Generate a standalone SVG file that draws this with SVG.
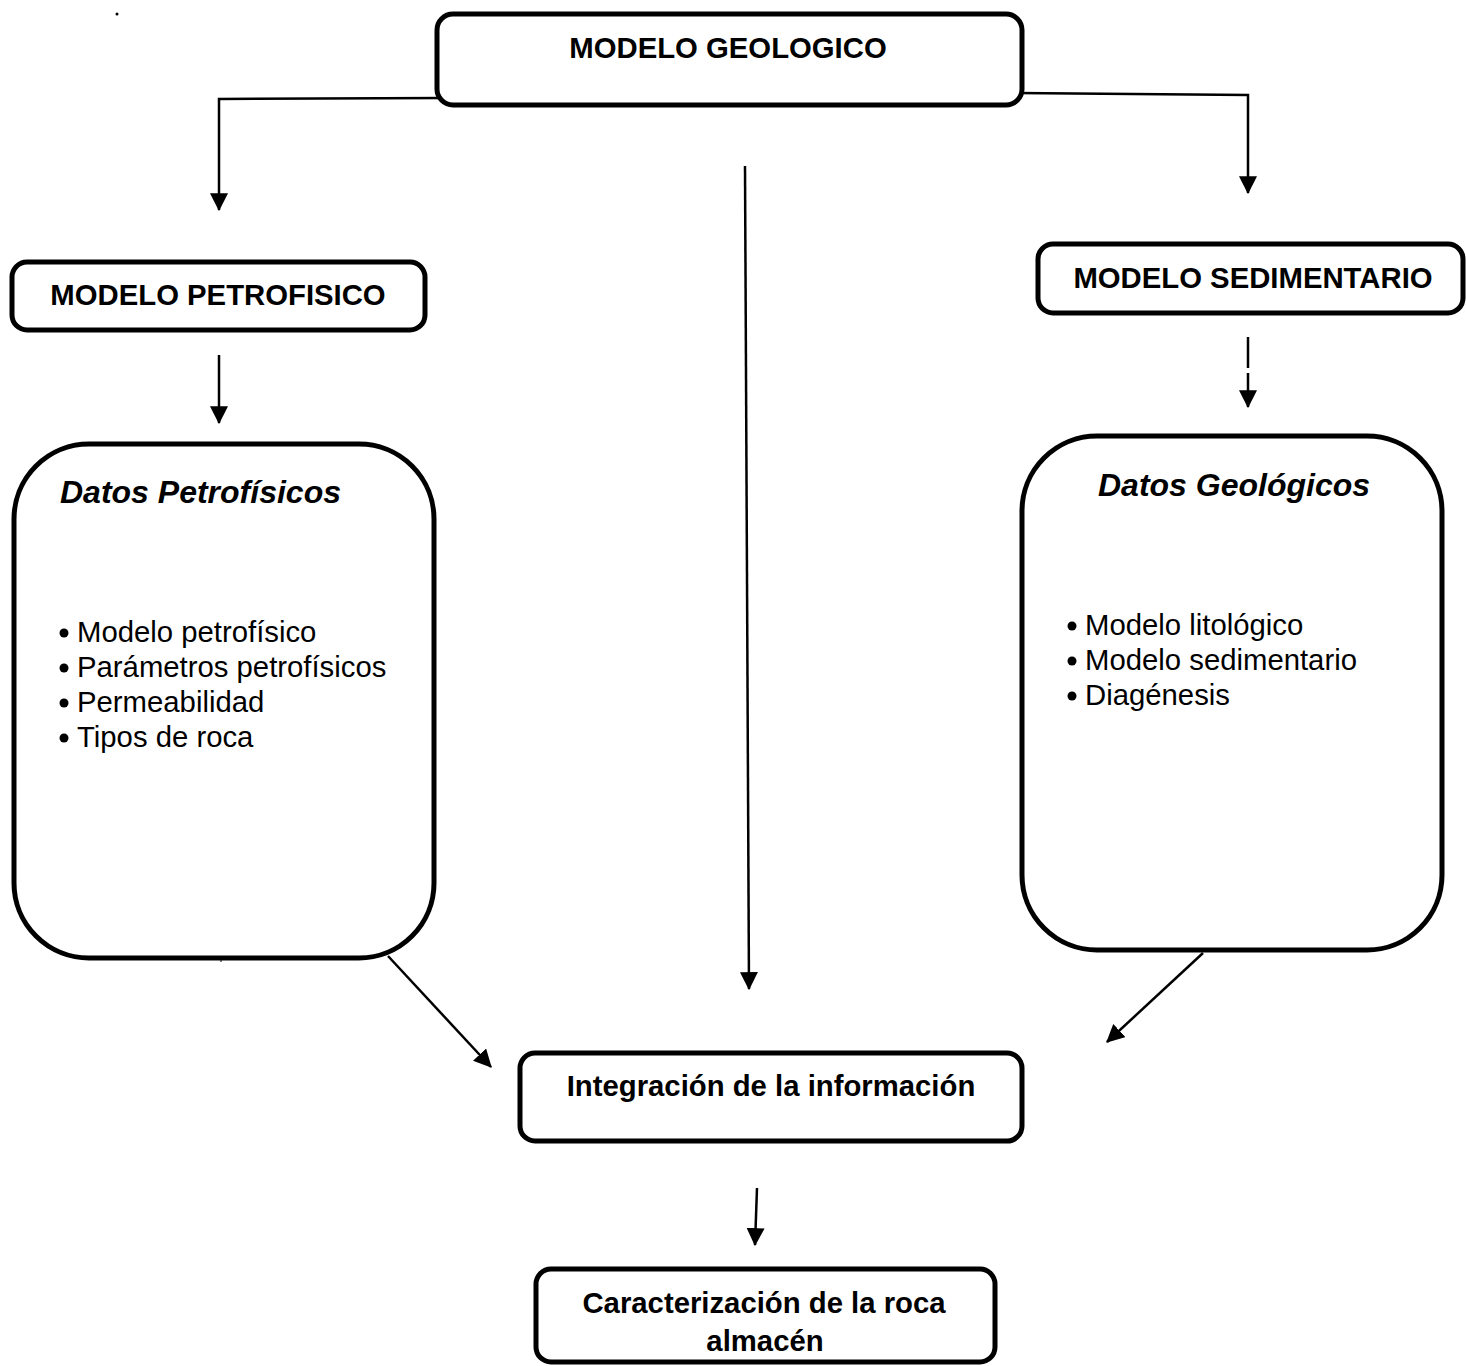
<svg xmlns="http://www.w3.org/2000/svg" width="1466" height="1366" viewBox="0 0 1466 1366">
<style>
.box{fill:#fff;stroke:#000;stroke-width:5}
.con{fill:none;stroke:#000;stroke-width:2.5}
.t{font-family:"Liberation Sans",Arial,sans-serif;font-size:29.3px;fill:#000}
.b{font-weight:bold}
.bi{font-weight:bold;font-style:italic;font-size:32px}
.c{text-anchor:middle}
</style>
<defs>
<marker id="ah" markerUnits="userSpaceOnUse" markerWidth="18" markerHeight="18" viewBox="0 0 16 16" refX="15" refY="8" orient="auto">
<path d="M0,0 L16,8 L0,16 Z" fill="#000"/>
</marker>
</defs>
<rect width="1466" height="1366" fill="#fff"/>
<circle cx="117" cy="14" r="1.5" fill="#000"/>
<g id="connectors">
<path class="con" d="M445,98 L219,99 L219,210" marker-end="url(#ah)"/>
<path class="con" d="M1015,93 L1248,95 L1248,193" marker-end="url(#ah)"/>
<path class="con" d="M745,166 L749,989" marker-end="url(#ah)"/>
<path class="con" d="M219,355 L219,423" marker-end="url(#ah)"/>
<path class="con" d="M1248,337 L1248,368"/>
<path class="con" d="M1248,373 L1248,407" marker-end="url(#ah)"/>
<path class="con" d="M388,956 L491,1067" marker-end="url(#ah)"/>
<path class="con" d="M1203,953 L1107,1042" marker-end="url(#ah)"/>
<path class="con" d="M757,1188 L755,1245" marker-end="url(#ah)"/>
</g>
<g id="modelo-geologico">
<rect class="box" x="437" y="14" width="585" height="91" rx="16"/>
<text class="t b c" x="728" y="58">MODELO GEOLOGICO</text>
</g>
<g id="modelo-petrofisico">
<rect class="box" x="12" y="262" width="413" height="68" rx="15"/>
<text class="t b c" x="218" y="305">MODELO PETROFISICO</text>
</g>
<g id="modelo-sedimentario">
<rect class="box" x="1038" y="244" width="425" height="69" rx="15"/>
<text class="t b c" x="1253" y="288">MODELO SEDIMENTARIO</text>
</g>
<g id="datos-petrofisicos">
<rect class="box" x="14" y="444" width="420" height="514" rx="75"/>
<line x1="221" y1="958" x2="221" y2="962" stroke="#000" stroke-width="1"/>
<text class="t bi" x="60" y="503">Datos Petrofísicos</text>
<circle cx="64" cy="633" r="4.5"/>
<text class="t" x="77" y="642">Modelo petrofísico</text>
<circle cx="64" cy="668" r="4.5"/>
<text class="t" x="77" y="677">Parámetros petrofísicos</text>
<circle cx="64" cy="703" r="4.5"/>
<text class="t" x="77" y="712">Permeabilidad</text>
<circle cx="64" cy="738" r="4.5"/>
<text class="t" x="77" y="747">Tipos de roca</text>
</g>
<g id="datos-geologicos">
<rect class="box" x="1022" y="436" width="420" height="514" rx="75"/>
<text class="t bi" x="1098" y="496">Datos Geológicos</text>
<circle cx="1072" cy="626" r="4.5"/>
<text class="t" x="1085" y="635">Modelo litológico</text>
<circle cx="1072" cy="661" r="4.5"/>
<text class="t" x="1085" y="670">Modelo sedimentario</text>
<circle cx="1072" cy="696" r="4.5"/>
<text class="t" x="1085" y="705">Diagénesis</text>
</g>
<g id="integracion">
<rect class="box" x="520" y="1053" width="502" height="88" rx="15"/>
<text class="t b c" x="771" y="1096">Integración de la información</text>
</g>
<g id="caracterizacion">
<rect class="box" x="536" y="1269" width="459" height="93" rx="15"/>
<text class="t b c" x="764" y="1313">Caracterización de la roca</text>
<text class="t b c" x="765" y="1351">almacén</text>
</g>
</svg>
